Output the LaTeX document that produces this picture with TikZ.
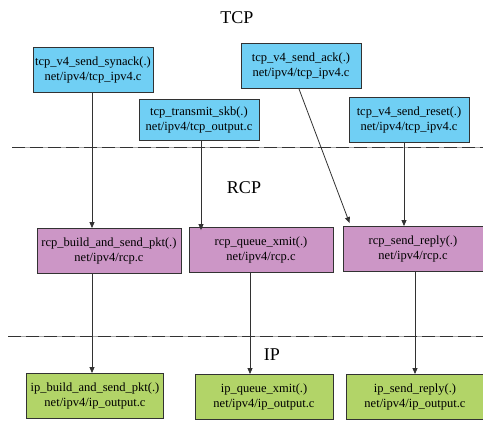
\documentclass[tikz,border=0pt]{standalone}
\usepackage{fontspec}
\setmainfont{Liberation Serif}
\usetikzlibrary{arrows.meta}
\definecolor{tcpblue}{RGB}{112,207,244}
\definecolor{rcppurple}{RGB}{204,150,198}
\definecolor{ipgreen}{RGB}{178,212,104}
\definecolor{edgegray}{RGB}{50,50,50}
\tikzset{
  func/.style={draw=edgegray, line width=0.9pt, align=center, minimum height=45pt,
    inner sep=2pt, font=\fontsize{12.5}{15.5}\selectfont},
  tcpfunc/.style={func, fill=tcpblue, minimum width=120pt},
  rcpfunc/.style={func, fill=rcppurple, minimum width=144pt},
  ipfunc/.style={func, fill=ipgreen, minimum width=137pt},
  layer/.style={font=\fontsize{18}{20}\selectfont},
  sepbase/.style={draw=gray!70, line width=1pt},
  sep/.style={draw=edgegray, line width=1pt, dash pattern=on 13pt off 5pt},
  call/.style={draw=edgegray, line width=0.8pt, -{Triangle[length=6pt,width=5pt]}}
}
\begin{document}
\begin{tikzpicture}[x=1pt, y=-1pt]
\useasboundingbox (0,0) rectangle (483,422);
% layers
\node[layer] (tcp) at (237,18) {TCP};
\node[layer] (rcp) at (244,188) {RCP};
\node[layer] (ip) at (272,355) {IP};
\coordinate (sepa) at (12,148);
\coordinate (sepb) at (8,337);
\draw[sepbase] (sepa) -- ++(471,0);
\draw[sep] (sepa) -- ++(471,0);
\draw[sepbase] (sepb) -- ++(475,0);
\draw[sep] (sepb) -- ++(475,0);
% tcp
\node[tcpfunc] (synack) at (93,70) {tcp\_v4\_send\_synack(.)\\net/ipv4/tcp\_ipv4.c};
\node[tcpfunc, minimum height=41pt] (xmit) at (199,120) {tcp\_transmit\_skb(.)\\net/ipv4/tcp\_output.c};
\node[tcpfunc] (ack) at (301,66) {tcp\_v4\_send\_ack(.)\\net/ipv4/tcp\_ipv4.c};
\node[tcpfunc] (reset) at (409,120) {tcp\_v4\_send\_reset(.)\\net/ipv4/tcp\_ipv4.c};
% rcp
\node[rcpfunc] (rcpbuild) at (109,251) {rcp\_build\_and\_send\_pkt(.)\\net/ipv4/rcp.c};
\node[rcpfunc] (rcpqueue) at (261,250) {rcp\_queue\_xmit(.)\\net/ipv4/rcp.c};
\node[rcpfunc, minimum width=140pt] (rcpreply) at (413,249) {rcp\_send\_reply(.)\\net/ipv4/rcp.c};
% ip
\node[ipfunc] (ipbuild) at (95,396) {ip\_build\_and\_send\_pkt(.)\\net/ipv4/ip\_output.c};
\node[ipfunc, minimum width=138pt] (ipqueue) at (264,397) {ip\_queue\_xmit(.)\\net/ipv4/ip\_output.c};
\node[ipfunc] (ipreply) at (415,397) {ip\_send\_reply(.)\\net/ipv4/ip\_output.c};
% calls
\coordinate (ackend) at ([shift={(7,-3)}]rcpreply.north west);
\draw[call] ([xshift=-1pt]synack.south) -- ([xshift=-1pt]synack.south |- rcpbuild.north);
\draw[call] ([xshift=2pt]xmit.south) -- ([xshift=2pt,yshift=-3pt]xmit.south |- rcpqueue.north);
\draw[call] ([xshift=-2pt]ack.south) -- (ackend);
\draw[call] ([xshift=-5pt]reset.south) -- ([xshift=-5pt]reset.south |- rcpreply.north);
\draw[call] ([xshift=-17pt]rcpbuild.south) -- ([xshift=-17pt]rcpbuild.south |- ipbuild.north);
\draw[call] ([xshift=-11pt]rcpqueue.south) -- ([xshift=-11pt]rcpqueue.south |- ipqueue.north);
\draw[call] ([xshift=2pt]rcpreply.south) -- ([xshift=2pt]rcpreply.south |- ipreply.north);
\end{tikzpicture}
\end{document}
